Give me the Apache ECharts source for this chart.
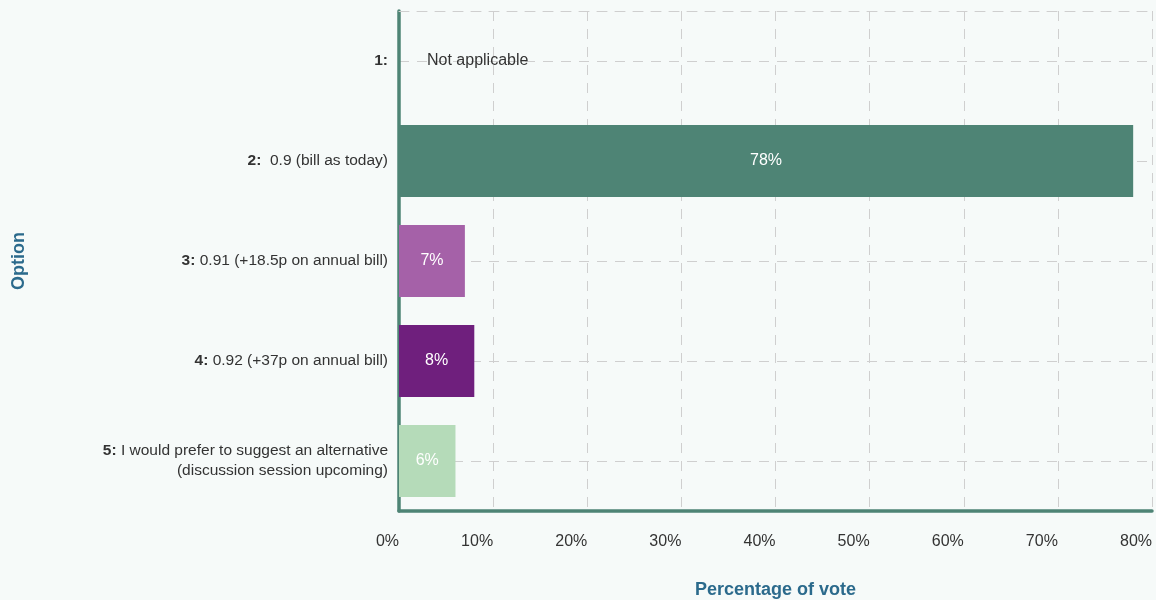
<!DOCTYPE html>
<html><head><meta charset="utf-8">
<script src="https://cdn.jsdelivr.net/npm/echarts@6/dist/echarts.min.js"></script>
<style>html,body{margin:0;background:#f6faf9}#c{width:1156px;height:600px}</style>
</head><body><div id="c"></div>
<script>
const optionNumbers = ['1:', '2:', '3:', '4:', '5:'];
const optionTexts = ['', ' 0.9 (bill as today)', '0.91 (+18.5p on annual bill)', '0.92 (+37p on annual bill)', 'I would prefer to suggest an alternative\n(discussion session upcoming)'];
const voteShare = [0, 78, 7, 8, 6];
const notApplicable = [true, false, false, false, false];
const barColors = ['#4e8475', '#4e8475', '#a561a8', '#6f1f7d', '#b5dbb9'];
const xMin = 0, xMax = 80, xStep = 10;

const categories = optionNumbers.map((n, i) => i);

const chart = echarts.init(document.getElementById('c'));
const FONT = '"Liberation Sans", Arial, sans-serif';
chart.setOption({
  backgroundColor: '#f6faf9',
  textStyle: { fontFamily: FONT },
  grid: { left: 399, right: 4, top: 11, bottom: 89, containLabel: false, outerBoundsMode: 'none' },
  xAxis: [{
    type: 'value', min: xMin, max: xMax, interval: xStep,
    name: 'Percentage of vote', nameLocation: 'middle', nameGap: 70,
    nameTextStyle: { color: '#2b6a8c', fontSize: 18, fontWeight: 'bold', fontFamily: FONT },
    axisLine: { show: true, lineStyle: { color: '#4e8475', width: 3.5, cap: 'round' } },
    axisTick: { show: false },
    axisLabel: { formatter: v => v + '%', align: 'right', color: '#333', fontSize: 16, margin: 23, fontFamily: FONT },
    splitLine: { show: true, lineStyle: { color: '#cfcfcf', type: [10, 8], width: 1 } }
  }, {
    type: 'value', min: xMin, max: xMax, interval: xStep, position: 'top',
    axisLine: { show: true, lineStyle: { color: '#cfcfcf', type: [10, 8], width: 1 } },
    axisTick: { show: false }, axisLabel: { show: false }, splitLine: { show: false }
  }],
  yAxis: {
    type: 'category', data: categories, inverse: true,
    name: 'Option', nameLocation: 'middle', nameGap: 371, nameRotate: 90,
    nameTextStyle: { color: '#2b6a8c', fontSize: 18, fontWeight: 'bold', fontFamily: FONT },
    axisLine: { show: true, lineStyle: { color: '#4e8475', width: 3.5, cap: 'round' } },
    axisTick: { show: false },
    splitLine: { show: true, alignWithLabel: true, lineStyle: { color: '#cfcfcf', type: [10, 8], width: 1 } },
    axisLabel: {
      margin: 11, align: 'right', color: '#333', fontSize: 15.5, lineHeight: 20, fontFamily: FONT,
      formatter: (v, i) => {
        const lines = optionTexts[i].split('\n');
        let s = '{b|' + optionNumbers[i] + '}' + (lines[0] ? ' {t|' + lines[0] + '}' : '');
        for (let k = 1; k < lines.length; k++) s += '\n{t|' + lines[k] + '}';
        return s;
      },
      rich: {
        b: { fontWeight: 'bold', color: '#333', fontSize: 15.5, lineHeight: 20, fontFamily: FONT },
        t: { color: '#333', fontSize: 15.5, lineHeight: 20, fontFamily: FONT }
      }
    }
  },
  series: [{
    type: 'bar', barWidth: 72, xAxisIndex: 0,
    data: voteShare.map((v, i) => ({
      value: v,
      itemStyle: { color: barColors[i] },
      label: notApplicable[i]
        ? { show: true, position: 'right', distance: 28, formatter: 'Not applicable', color: '#333', fontSize: 16 }
        : { show: true, position: 'inside', formatter: '{c}%', color: '#fff', fontSize: 16 }
    })),
    label: { fontFamily: FONT }
  }]
});
</script></body></html>
